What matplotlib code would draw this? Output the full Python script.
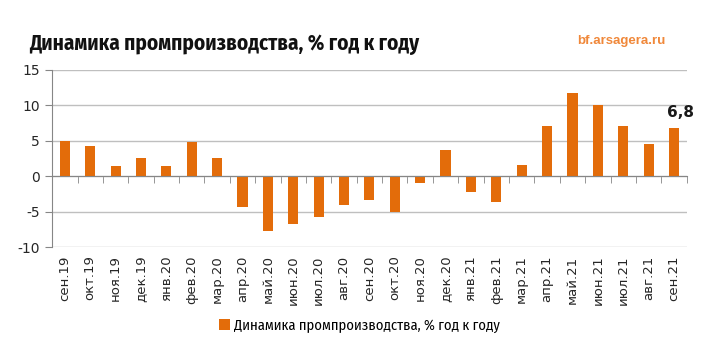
import matplotlib
matplotlib.use('Agg')
import matplotlib.pyplot as plt
import numpy as np

months = ['сен.19', 'окт.19', 'ноя.19', 'дек.19', 'янв.20', 'фев.20', 'мар.20',
          'апр.20', 'май.20', 'июн.20', 'июл.20', 'авг.20', 'сен.20', 'окт.20',
          'ноя.20', 'дек.20', 'янв.21', 'фев.21', 'мар.21', 'апр.21', 'май.21',
          'июн.21', 'июл.21', 'авг.21', 'сен.21']
values = [5.0, 4.3, 1.5, 2.6, 1.5, 4.9, 2.6,
          -4.4, -7.8, -6.7, -5.7, -4.0, -3.4, -5.0,
          -1.0, 3.7, -2.2, -3.6, 1.6, 7.1, 11.7,
          10.0, 7.1, 4.6, 6.8]
series_name = 'Динамика промпроизводства, % год к году'
title = 'Динамика промпроизводства, % год к году'

bar_color = '#E36C0A'
grid_color = '#BFBFBF'
axis_color = '#868686'
narrow = ['Fira Sans Condensed', 'IBM Plex Sans Condensed', 'DejaVu Sans']

plt.rcParams['font.family'] = ['DejaVu Sans']
plt.rcParams['axes.unicode_minus'] = False

fig = plt.figure(figsize=(7.05, 3.57), dpi=100)
ax = fig.add_axes([0.074, 0.308, 0.900, 0.496])

x = np.arange(len(months))
ax.bar(x, values, width=0.4, color=bar_color, label=series_name, zorder=3)

ax.set_xlim(-0.5, len(months) - 0.5)
ax.set_ylim(-10, 15)
ax.set_yticks(np.arange(-10, 16, 5))
ax.yaxis.grid(True, color=grid_color, linewidth=1)
ax.set_axisbelow(True)

for s in ['right', 'bottom']:
    ax.spines[s].set_visible(False)
ax.spines['left'].set_color(axis_color)
ax.spines['top'].set_position(('data', 0))
ax.spines['top'].set_color(axis_color)
ax.spines['top'].set_zorder(4)

ax.set_xticks(x)
ax.set_xticklabels(months, rotation=90, fontsize=9.5, color='#262626')
ax.set_xticks(np.arange(len(months) + 1) - 0.5, minor=True)
ax.tick_params(axis='x', which='major', length=0, pad=6, top=False, bottom=True)
ax.tick_params(axis='x', which='minor', length=5, direction='in', top=True,
               bottom=False, color=axis_color)
ax.tick_params(axis='y', length=5, color=axis_color, labelsize=10,
               labelcolor='#262626', pad=4)

ax.annotate('6,8', xy=(x[-1], values[-1]), xytext=(5, 6), textcoords='offset points',
            ha='center', va='bottom', fontsize=11, fontweight='bold', color='#1a1a1a')

fig.text(0.042, 0.875, title, fontsize=15.2, fontweight='bold',
         family=narrow, color='#111111', va='center')
fig.text(0.944, 0.885, 'bf.arsagera.ru', fontsize=9.5, fontweight='bold',
         family=['Liberation Sans', 'DejaVu Sans'], color='#F0883A',
         ha='right', va='center')

fig.legend(loc='center', bbox_to_anchor=(0.51, 0.088), frameon=False,
           handlelength=0.7, handleheight=0.7, handletextpad=0.3,
           prop={'family': narrow, 'size': 10.5})

fig.savefig('out.png', dpi=100)
